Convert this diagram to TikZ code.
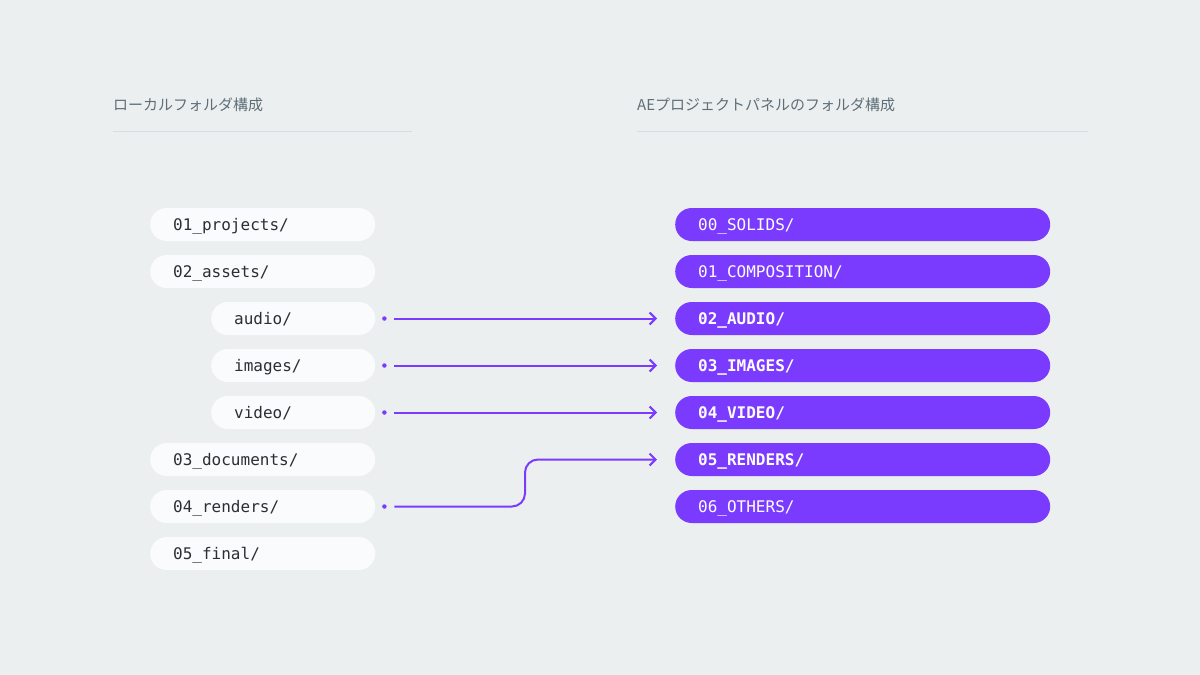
\documentclass[tikz,border=0pt]{standalone}
\usepackage{fontspec}
\setmonofont{DejaVu Sans Mono}
\newfontfamily\cjk{Noto Sans CJK JP}
\usetikzlibrary{arrows.meta}
\definecolor{bgc}{HTML}{ECEFF0}
\definecolor{leftfill}{HTML}{FAFBFC}
\definecolor{purp}{HTML}{7B3BFE}
\definecolor{headc}{HTML}{5F6F78}
\definecolor{rulec}{HTML}{D6DCDF}
\definecolor{txtc}{HTML}{2A2F33}
\tikzset{
  lbox/.style={fill=leftfill, rounded corners=16.5pt, minimum height=33pt, anchor=west, text=txtc, font=\ttfamily\fontsize{16}{16}\selectfont, align=left, inner xsep=0pt, inner ysep=0pt, text height=14pt, text depth=2pt, text width=#1},
  rbox/.style={fill=purp, rounded corners=16.5pt, minimum height=33pt, anchor=west, text=white, font=\ttfamily\fontsize{16}{16}\selectfont, inner xsep=0pt, inner ysep=0pt, text height=14pt, text depth=2pt, text width=375pt},
  head/.style={anchor=west, text=headc, font=\cjk\fontsize{15}{15}\selectfont, inner sep=0pt},
  conn/.style={draw=purp, line width=2pt, -{Straight Barb[length=6pt,width=12pt,line width=2pt]}},
  sdot/.style={circle, fill=purp, inner sep=0pt, minimum size=4.5pt},
}
\begin{document}
\begin{tikzpicture}[x=1pt,y=-1pt]
\fill[bgc] (0,0) rectangle (1200,675);
\useasboundingbox (0,0) rectangle (1200,675);
% headers
\node[head] (hl) at (113,104.5) {ローカルフォルダ構成};
\node[head] (hr) at (637,104.5) {AEプロジェクトパネルのフォルダ構成};
\draw[rulec, line width=1pt] (113,131) -- (412,131);
\draw[rulec, line width=1pt] (637,131) -- (1088,131);
% left boxes
\node[lbox=225pt] (l1) at (150,224.5) {\hspace*{23pt}01\_projects/};
\node[lbox=225pt] (l2) at (150,271.5) {\hspace*{23pt}02\_assets/};
\node[lbox=164pt] (l3) at (211,318.5) {\hspace*{23pt}audio/};
\node[lbox=164pt] (l4) at (211,365.5) {\hspace*{23pt}images/};
\node[lbox=164pt] (l5) at (211,412.5) {\hspace*{23pt}video/};
\node[lbox=225pt] (l6) at (150,459.5) {\hspace*{23pt}03\_documents/};
\node[lbox=225pt] (l7) at (150,506.5) {\hspace*{23pt}04\_renders/};
\node[lbox=225pt] (l8) at (150,553.5) {\hspace*{23pt}05\_final/};
% right boxes
\node[rbox] (r0) at (675,224.5) {\hspace*{23pt}00\_SOLIDS/};
\node[rbox] (r1) at (675,271.5) {\hspace*{23pt}01\_COMPOSITION/};
\node[rbox] (r2) at (675,318.5) {\hspace*{23pt}\bfseries 02\_AUDIO/};
\node[rbox] (r3) at (675,365.5) {\hspace*{23pt}\bfseries 03\_IMAGES/};
\node[rbox] (r4) at (675,412.5) {\hspace*{23pt}\bfseries 04\_VIDEO/};
\node[rbox] (r5) at (675,459.5) {\hspace*{23pt}\bfseries 05\_RENDERS/};
\node[rbox] (r6) at (675,506.5) {\hspace*{23pt}06\_OTHERS/};
% connectors
\foreach \a/\b in {l3/r2, l4/r3, l5/r4}{
  \node[sdot] (d\a) at ([xshift=9pt]\a.east) {};
  \draw[conn] ([xshift=19pt]\a.east) -- ([xshift=-18pt]\b.west);
}
\node[sdot] (dl7) at ([xshift=9pt]l7.east) {};
\coordinate (c1) at (525,506.5);
\coordinate (c2) at (525,459.5);
\draw[conn, rounded corners=13pt] ([xshift=19pt]l7.east) -- (c1) -- (c2) -- ([xshift=-18pt]r5.west);
\end{tikzpicture}
\end{document}
